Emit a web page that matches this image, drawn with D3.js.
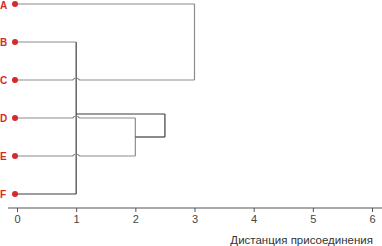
<!DOCTYPE html>
<html>
<head>
<meta charset="utf-8">
<script src="https://cdn.jsdelivr.net/npm/d3@7"></script>
<style>
  body { margin: 0; background: #fff; }
  svg { display: block; font-family: "Liberation Sans", Arial, sans-serif; }
</style>
</head>
<body>
<div id="chart"></div>
<script>

// leaves top to bottom
var leaves = ["A", "B", "C", "D", "E", "F"];

// merges: two children (leaf or earlier merge id) and the join distance
var merges = [
    { id: "BF",   left: "B",  right: "F",  dist: 1 },
    { id: "DE",   left: "D",  right: "E",  dist: 2 },
    { id: "BFDE", left: "BF", right: "DE", dist: 2.5 },
    { id: "AC",   left: "A",  right: "C",  dist: 3 }
];

var xTicks = [0, 1, 2, 3, 4, 5, 6];
var xTitle = "Дистанция присоединения";

var width = 382, height = 246;

var svg = d3.select("#chart").append("svg")
    .attr("width", width)
    .attr("height", height);

var x = d3.scaleLinear().domain([0, 6]).range([17, 372]);
var y = d3.scalePoint().domain(leaves).range([4, 194]);

var grey = "#8c8c8c", dark = "#3c3c3c", red = "#d42a2a";

// node positions (data distance + pixel row)
var nodes = {};
leaves.forEach(function(l) { nodes[l] = { dist: 0, y: y(l), leaf: true }; });
merges.forEach(function(m) {
    nodes[m.id] = { dist: m.dist, y: (nodes[m.left].y + nodes[m.right].y) / 2, leaf: false };
});

// nudge an inner node up a little if it lands on a leaf row
var leafRows = leaves.map(function(l) { return y(l); });
merges.forEach(function(m) {
    var n = nodes[m.id];
    if (leafRows.some(function(r) { return Math.abs(r - n.y) < 1; })) n.y -= 4;
});

// segments: horizontals from child to parent distance, verticals at parent
var hSegs = [], vSegs = [];
merges.forEach(function(m) {
    [m.left, m.right].forEach(function(c) {
        var n = nodes[c];
        hSegs.push({ x0: n.dist, x1: m.dist, y: n.y, color: (n.leaf && c !== "F") ? grey : dark });
    });
    vSegs.push({ x: m.dist, y0: nodes[m.left].y, y1: nodes[m.right].y,
                 color: (m.id === "BF" || m.id === "BFDE") ? dark : grey });
});

// horizontal lines with small hops where they cross a vertical
function hPath(s) {
    var x0 = x(s.x0), x1 = x(s.x1), r = 3.5;
    var cross = vSegs.filter(function(v) {
        var vx = x(v.x), lo = Math.min(v.y0, v.y1), hi = Math.max(v.y0, v.y1);
        return vx > x0 + 1 && vx < x1 - 1 && s.y > lo && s.y < hi;
    }).map(function(v) { return x(v.x); }).sort(d3.ascending);
    var d = "M" + x0 + "," + s.y;
    cross.forEach(function(cx) {
        d += "L" + (cx - r) + "," + s.y + "Q" + cx + "," + (s.y - 4) + " " + (cx + r) + "," + s.y;
    });
    return d + "L" + x1 + "," + s.y;
}

svg.selectAll(".vlink")
    .data(vSegs)
    .enter().append("line")
    .attr("class", "vlink")
    .attr("x1", function(d) { return x(d.x); })
    .attr("x2", function(d) { return x(d.x); })
    .attr("y1", function(d) { return d.y0; })
    .attr("y2", function(d) { return d.y1; })
    .attr("stroke", function(d) { return d.color; })
    .attr("stroke-width", 1.2);

svg.selectAll(".hlink")
    .data(hSegs)
    .enter().append("path")
    .attr("class", "hlink")
    .attr("d", hPath)
    .attr("fill", "none")
    .attr("stroke", function(d) { return d.color; })
    .attr("stroke-width", 1.2);

// leaf dots and labels
svg.selectAll(".dot")
    .data(leaves)
    .enter().append("circle")
    .attr("class", "dot")
    .attr("cx", x(0) - 2)
    .attr("cy", function(d) { return y(d); })
    .attr("r", 3)
    .attr("fill", red);

// top label kept just inside the frame
svg.selectAll(".leaf-label")
    .data(leaves)
    .enter().append("text")
    .attr("class", "leaf-label")
    .attr("x", 0)
    .attr("y", function(d) { return Math.max(y(d), 5.5); })
    .attr("dy", "0.36em")
    .attr("fill", red)
    .style("font-size", "10px")
    .style("font-weight", "bold")
    .text(function(d) { return d; });

// x axis
var axisY = 208;
var xAxis = d3.axisBottom(x)
    .tickValues(xTicks)
    .tickFormat(d3.format("d"))
    .tickSize(4).tickSizeOuter(0).tickPadding(3);
var gx = svg.append("g")
    .attr("class", "x-axis")
    .attr("transform", "translate(0," + axisY + ")")
    .call(xAxis);
gx.select(".domain").remove();
gx.append("line")
    .attr("x1", 8).attr("x2", width)
    .attr("stroke", "#555").attr("stroke-width", 1.2);
gx.selectAll(".tick line").attr("stroke", "#555");
gx.selectAll(".tick text")
    .attr("fill", "#444")
    .style("font-size", "11px")
    .style("font-family", "'Liberation Sans', Arial, sans-serif");

svg.append("text")
    .attr("x", 373)
    .attr("y", 244)
    .attr("text-anchor", "end")
    .attr("fill", "#333")
    .style("font-size", "11.5px")
    .text(xTitle);

</script>
</body>
</html>
